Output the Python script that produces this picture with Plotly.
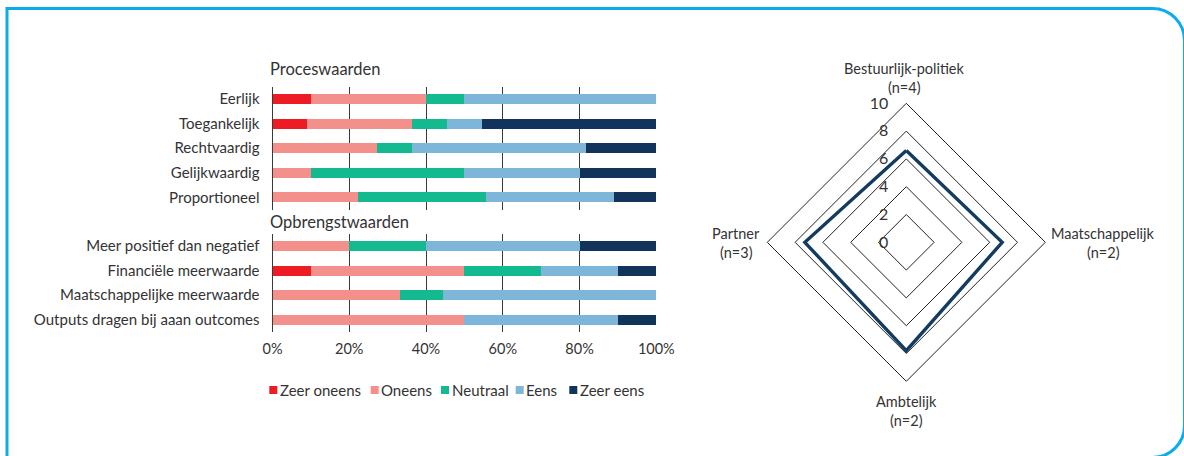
import plotly.graph_objects as go

W, H = 1184, 456

# ---------------- data ----------------
levels = ["Zeer oneens", "Oneens", "Neutraal", "Eens", "Zeer eens"]
level_colors = ["#ED1C24", "#F4908B", "#13B98F", "#7EB6DA", "#12345A"]

proces_items = ["Eerlijk", "Toegankelijk", "Rechtvaardig", "Gelijkwaardig", "Proportioneel"]
proces_values = {
    "Zeer oneens": [10, 9.09, 0, 0, 0],
    "Oneens": [30, 27.27, 27.27, 10, 22.22],
    "Neutraal": [10, 9.09, 9.09, 40, 33.33],
    "Eens": [50, 9.09, 45.45, 30, 33.33],
    "Zeer eens": [0, 45.45, 18.18, 20, 11.11],
}

opbrengst_items = ["Meer positief dan negatief", "Financiële meerwaarde",
                   "Maatschappelijke meerwaarde", "Outputs dragen bij aaan outcomes"]
opbrengst_values = {
    "Zeer oneens": [0, 10, 0, 0],
    "Oneens": [20, 40, 33.33, 50],
    "Neutraal": [20, 20, 11.11, 0],
    "Eens": [40, 20, 55.56, 40],
    "Zeer eens": [20, 10, 0, 10],
}

x_ticks = [0, 20, 40, 60, 80, 100]
x_ticklabels = ["0%", "20%", "40%", "60%", "80%", "100%"]

radar_categories = ["Bestuurlijk-politiek", "Maatschappelijk", "Ambtelijk", "Partner"]
radar_n = [4, 2, 2, 3]
radar_values = [6.6, 6.9, 7.8, 7.3]
radar_ticks = [0, 2, 4, 6, 8, 10]

# ---------------- helpers ----------------
def px(x):
    return x / W

def py(y):
    return 1 - y / H

FONT = "Lato"
TXT = "#333333"
GRID = "#3a3a3a"
FS = 14.5

fig = go.Figure()

for lvl, col in zip(levels, level_colors):
    fig.add_trace(go.Bar(
        y=proces_items, x=proces_values[lvl], orientation="h", name=lvl,
        marker=dict(color=col, line=dict(width=0)), xaxis="x", yaxis="y",
        showlegend=False))
    fig.add_trace(go.Bar(
        y=opbrengst_items, x=opbrengst_values[lvl], orientation="h", name=lvl,
        marker=dict(color=col, line=dict(width=0)), xaxis="x2", yaxis="y2",
        showlegend=False))

radar_theta = radar_categories + [radar_categories[0]]
radar_r = radar_values + [radar_values[0]]
fig.add_trace(go.Scatterpolar(
    r=radar_r, theta=radar_theta, mode="lines",
    line=dict(color="#143C60", width=3.4), showlegend=False, subplot="polar"))

xdom = [px(272.5), px(656.3)]
axis_common = dict(range=[0, 100], domain=xdom, tickvals=x_ticks, ticktext=x_ticklabels,
                   showgrid=True, gridcolor=GRID, gridwidth=1.2, zeroline=True,
                   zerolinecolor=GRID, zerolinewidth=1.2, showline=False, ticks="",
                   automargin=False,
                   tickfont=dict(family=FONT, size=FS, color=TXT), fixedrange=True)

ycat_font = dict(family=FONT, size=15, color=TXT)

cx, cy, R = 906.3, 242.3, 139.0

fig.update_layout(
    template="none",
    width=W, height=H, autosize=False,
    margin=dict(l=0, r=0, t=0, b=0, pad=0, autoexpand=False),
    paper_bgcolor="white", plot_bgcolor="white",
    barmode="stack", bargap=0.59,
    font=dict(family=FONT, color=TXT, size=FS),
    xaxis=dict(axis_common, anchor="y", showticklabels=False),
    yaxis=dict(domain=[py(209.6), py(86.7)], autorange="reversed", anchor="x",
               ticks="", ticklabelstandoff=12, showgrid=False, showline=False,
               zeroline=False, automargin=False, tickfont=ycat_font),
    xaxis2=dict(axis_common, anchor="y2", ticklabelstandoff=6),
    yaxis2=dict(domain=[py(332), py(233.7)], autorange="reversed", anchor="x2",
                ticks="", ticklabelstandoff=12, showgrid=False, showline=False,
                zeroline=False, automargin=False, tickfont=ycat_font),
    polar=dict(
        domain=dict(x=[px(cx - R), px(cx + R)], y=[py(cy + R), py(cy - R)]),
        bgcolor="white", gridshape="linear",
        radialaxis=dict(range=[0, 10], tickvals=radar_ticks, angle=90, tickangle=90,
                        showgrid=True, gridcolor="#222222", gridwidth=1,
                        showline=False, ticks="outside", ticklen=12,
                        tickcolor="rgba(0,0,0,0)", side="counterclockwise",
                        tickfont=dict(family=FONT, size=16, color=TXT)),
        angularaxis=dict(rotation=90, direction="clockwise", showgrid=False,
                         showticklabels=False, ticks="", showline=True,
                         linecolor="#222222", linewidth=1),
    ),
)

annotations = []
# section headings
annotations.append(dict(x=px(268), y=py(69), xref="paper", yref="paper", text="Proceswaarden",
                        showarrow=False, xanchor="left", yanchor="middle",
                        font=dict(family=FONT, size=16.5, color=TXT)))
annotations.append(dict(x=px(268), y=py(222), xref="paper", yref="paper", text="Opbrengstwaarden",
                        showarrow=False, xanchor="left", yanchor="middle",
                        font=dict(family=FONT, size=16.5, color=TXT)))

# radar category labels
radar_label_pos = [(904, 69), (1103, 233), (906, 401), (736, 233)]
for cat, n, (lx, ly) in zip(radar_categories, radar_n, radar_label_pos):
    annotations.append(dict(x=px(lx), y=py(ly), xref="paper", yref="paper", text=cat,
                            showarrow=False, xanchor="center", yanchor="middle",
                            font=dict(family=FONT, size=FS, color=TXT)))
    annotations.append(dict(x=px(lx), y=py(ly + 19), xref="paper", yref="paper",
                            text=f"(n={n})", showarrow=False, xanchor="center",
                            yanchor="middle", font=dict(family=FONT, size=FS, color=TXT)))

# legend (manual, compact)
shapes = []
legend_x = [269.3, 370.7, 441.0, 515.7, 569.3]
ly = 390
for lvl, col, lx in zip(levels, level_colors, legend_x):
    shapes.append(dict(type="rect", xref="paper", yref="paper",
                       x0=px(lx), x1=px(lx + 8), y0=py(ly + 4), y1=py(ly - 4),
                       fillcolor=col, line=dict(width=0)))
    annotations.append(dict(x=px(lx + 8.5), y=py(ly), xref="paper", yref="paper", text=lvl,
                            showarrow=False, xanchor="left", yanchor="middle",
                            font=dict(family=FONT, size=15, color=TXT)))

# blue frame with rounded right corners
Lx, T, Rx, B, r = 7.0, 8.5, 1184.5, 457.5, 32.0
k = 0.5523 * r
def P(x, y):
    return f"{px(x):.6f},{py(y):.6f}"
path = (f"M{P(Lx, B)} L{P(Lx, T)} L{P(Rx - r, T)} "
        f"C{P(Rx - r + k, T)} {P(Rx, T + r - k)} {P(Rx, T + r)} "
        f"L{P(Rx, B - r)} "
        f"C{P(Rx, B - r + k)} {P(Rx - r + k, B)} {P(Rx - r, B)} Z")
shapes.append(dict(type="path", xref="paper", yref="paper", path=path,
                   line=dict(color="#0AADEA", width=3), fillcolor="rgba(0,0,0,0)"))

fig.update_layout(annotations=annotations, shapes=shapes)

fig.write_html("out.html")
